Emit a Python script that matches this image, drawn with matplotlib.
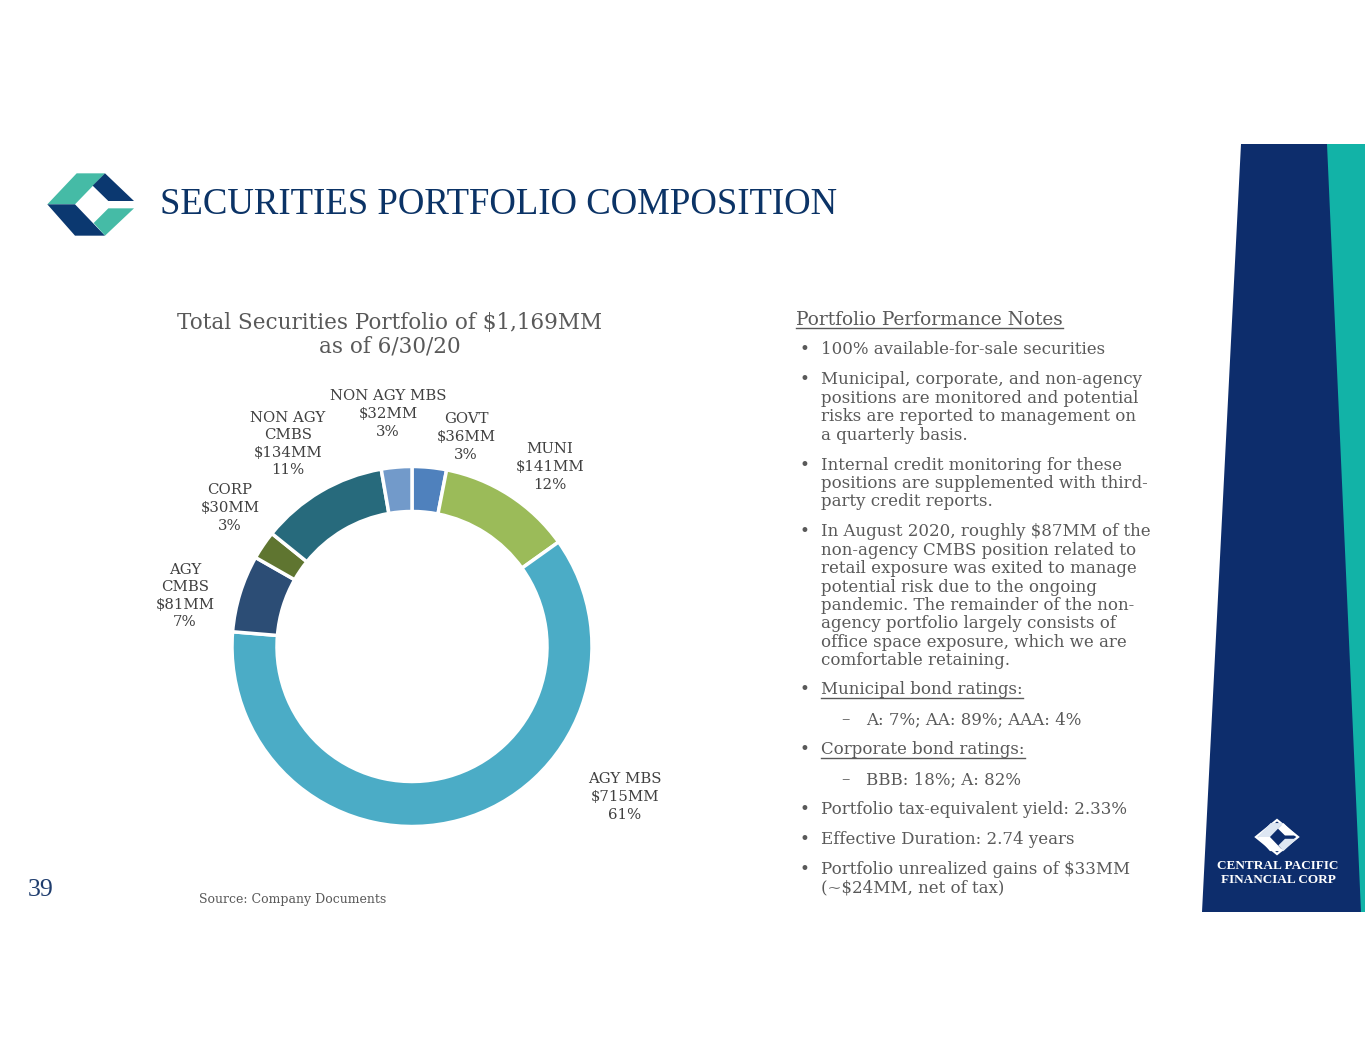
import matplotlib
matplotlib.use("Agg")
import matplotlib.pyplot as plt
from matplotlib.patches import Polygon
from matplotlib.lines import Line2D

# ---------------- data ----------------
categories = ["GOVT", "MUNI", "AGY MBS", "AGY\nCMBS", "CORP", "NON AGY\nCMBS", "NON AGY MBS"]
values_mm = [36, 141, 715, 81, 30, 134, 32]
colors = ["#4F81BD", "#9BBB59", "#4BACC6", "#2C4D75", "#5F7530", "#276A7C", "#729ACA"]
chart_title = "Total Securities Portfolio of $1,169MM\nas of 6/30/20"
slide_title = "SECURITIES PORTFOLIO COMPOSITION"
notes_header = "Portfolio Performance Notes"

W, H = 1365, 1055
fig = plt.figure(figsize=(W / 100, H / 100), dpi=100)
fig.patch.set_facecolor("white")

# background axes in pixel coordinates
bg = fig.add_axes([0, 0, 1, 1])
bg.set_xlim(0, W)
bg.set_ylim(H, 0)
bg.axis("off")

GRAY = "#595959"
NAVY = "#0D2D6C"
TEAL = "#12B3A7"
SERIF = "DejaVu Serif"

# ---------------- right band ----------------
bg.add_patch(Polygon([(1241, 144), (1365, 144), (1365, 912), (1202, 912)],
                     closed=True, facecolor=NAVY, edgecolor="none"))
bg.add_patch(Polygon([(1327, 144), (1365, 144), (1365, 912), (1361, 912)],
                     closed=True, facecolor=TEAL, edgecolor="none"))

def logo(cx, cy, s, c_dark, c_light, ax):
    def tr(pts):
        return [(cx + (x - 152) * s, cy + (y - 118) * s) for x, y in pts]
    ul = [(22, 118), (110, 25), (195, 25), (105, 118)]
    ur = [(195, 25), (282, 108), (205, 108), (158, 62)]
    ll = [(22, 118), (105, 118), (195, 212), (105, 212)]
    lr = [(161, 174), (205, 130), (282, 130), (195, 212)]
    ax.add_patch(Polygon(tr(ul), closed=True, facecolor=c_light, edgecolor="none"))
    ax.add_patch(Polygon(tr(ur), closed=True, facecolor=c_dark, edgecolor="none"))
    ax.add_patch(Polygon(tr(ll), closed=True, facecolor=c_dark, edgecolor="none"))
    ax.add_patch(Polygon(tr(lr), closed=True, facecolor=c_light, edgecolor="none"))

# main slide logo
logo(40 + 152 / 3, 165 + 118 / 3, 1 / 3, "#0B3870", "#45BBA6", bg)
# band logo
bg.add_patch(Polygon([(1256, 837), (1277, 820), (1298, 837), (1277, 854)], closed=True,
                     facecolor="none", edgecolor="white", lw=1.6))
logo(1277, 837, 0.15, "white", "#DDE6F2", bg)
bg.text(1278, 866, "CENTRAL PACIFIC", color="white", fontsize=9.5, fontweight="bold",
        family="Liberation Serif", ha="center", va="center")
bg.text(1278, 880, "FINANCIAL CORP", color="white", fontsize=9.5, fontweight="bold",
        family="Liberation Serif", ha="center", va="center")

# ---------------- slide title ----------------
bg.text(160, 205, slide_title, color="#0B3366", fontsize=26.5, family="Liberation Serif",
        ha="left", va="center")

# ---------------- donut ----------------
cx, cy, R = 412, 646.5, 180
pax = fig.add_axes([(cx - R) / W, 1 - (cy + R) / H, 2 * R / W, 2 * R / H])
pax.pie(values_mm, colors=colors, startangle=90, counterclock=False, radius=1,
        wedgeprops=dict(width=0.25, edgecolor="white", linewidth=2.5))
pax.set_xlim(-1, 1)
pax.set_ylim(-1, 1)
pax.set_aspect("equal")
pax.axis("off")

total = sum(values_mm)
label_pos = [(466, 437), (550, 467), (625, 797), (185, 596), (230, 508), (288, 444), (388, 414)]
for cat, v, (lx, ly) in zip(categories, values_mm, label_pos):
    txt = f"{cat}\n${v}MM\n{round(100 * v / total)}%"
    bg.text(lx, ly, txt, color="#404040", fontsize=10.7, family=SERIF, ha="center",
            va="center", linespacing=1.33)

bg.text(390, 335, chart_title, color=GRAY, fontsize=15.5, family=SERIF, ha="center",
        va="center", linespacing=1.1)

# ---------------- notes ----------------
FS = 12
bx, tx = 800, 821
items = [
    (350, ["100% available-for-sale securities"], False, 0),
    (380, ["Municipal, corporate, and non-agency", "positions are monitored and potential",
           "risks are reported to management on", "a quarterly basis."], False, 0),
    (465, ["Internal credit monitoring for these", "positions are supplemented with third-",
           "party credit reports."], False, 0),
    (532, ["In August 2020, roughly $87MM of the", "non-agency CMBS position related to",
           "retail exposure was exited to manage", "potential risk due to the ongoing",
           "pandemic. The remainder of the non-", "agency portfolio largely consists of",
           "office space exposure, which we are", "comfortable retaining."], False, 0),
    (690, ["Municipal bond ratings:"], True, 0),
    (720, ["A: 7%; AA: 89%; AAA: 4%"], False, 1),
    (750, ["Corporate bond ratings:"], True, 0),
    (780, ["BBB: 18%; A: 82%"], False, 1),
    (810, ["Portfolio tax-equivalent yield: 2.33%"], False, 0),
    (840, ["Effective Duration: 2.74 years"], False, 0),
    (869, ["Portfolio unrealized gains of $33MM", "(~$24MM, net of tax)"], False, 0),
]
underline_texts = []
hdr = bg.text(796, 320, notes_header, color=GRAY, fontsize=13.3, family=SERIF,
              ha="left", va="center")
underline_texts.append(hdr)
LS = 18.4
for y0, lines, ul, lvl in items:
    if lvl == 0:
        bg.text(bx, y0, "•", color=GRAY, fontsize=FS, family=SERIF, ha="left", va="center")
        x0 = tx
    else:
        bg.text(841, y0, "–", color=GRAY, fontsize=FS, family=SERIF, ha="left", va="center")
        x0 = 866
    for i, line in enumerate(lines):
        t = bg.text(x0, y0 + i * LS, line, color=GRAY, fontsize=FS, family=SERIF,
                    ha="left", va="center")
        if ul:
            underline_texts.append(t)

# footer
bg.text(28, 890, "39", color="#1F3D6E", fontsize=18.5, family="Liberation Serif",
        ha="left", va="center")
bg.text(199, 899, "Source: Company Documents", color=GRAY, fontsize=9, family=SERIF,
        ha="left", va="center")

# underlines from rendered extents
fig.canvas.draw()
r = fig.canvas.get_renderer()
inv = bg.transData.inverted()
for t in underline_texts:
    bb = t.get_window_extent(renderer=r)
    (x1, y1), (x2, y2) = inv.transform([(bb.x0, bb.y0), (bb.x1, bb.y0)])
    bg.add_line(Line2D([x1, x2], [y1 - 1, y2 - 1], color=GRAY, lw=1))

fig.savefig("out.png", dpi=100, facecolor="white")
